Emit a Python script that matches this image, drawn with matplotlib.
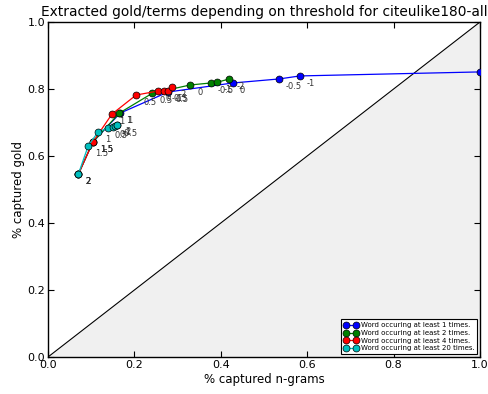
import matplotlib
matplotlib.use("Agg")
import matplotlib.pyplot as plt

thresholds = [2, 1.5, 1, 0.5, 0, -0.5, -1, -2]

series_names = ["Word occuring at least 1 times.",
                "Word occuring at least 2 times.",
                "Word occuring at least 4 times.",
                "Word occuring at least 20 times."]

ngrams_1 = [0.070, 0.104, 0.167, 0.278, 0.428, 0.535, 0.583, 1.000]
gold_1 = [0.545, 0.642, 0.728, 0.791, 0.818, 0.830, 0.839, 0.851]

ngrams_2 = [0.070, 0.104, 0.165, 0.241, 0.329, 0.377, 0.391, 0.420]
gold_2 = [0.545, 0.642, 0.728, 0.787, 0.812, 0.818, 0.820, 0.830]

ngrams_4 = [0.070, 0.104, 0.148, 0.204, 0.255, 0.269, 0.278, 0.287]
gold_4 = [0.545, 0.642, 0.725, 0.782, 0.794, 0.794, 0.794, 0.806]

ngrams_20 = [0.070, 0.093, 0.116, 0.139, 0.150, 0.155, 0.159, 0.160]
gold_20 = [0.545, 0.630, 0.672, 0.684, 0.687, 0.690, 0.693, 0.694]

colors = ["#0000ff", "#008000", "#ff0000", "#00bfbf"]

fig = plt.figure(figsize=(4.89, 3.94), dpi=100)
ax = fig.add_axes([48/489, 37/394, 432/489, 335/394])

ax.fill_between([0, 1], [0, 1], [0, 0], color="#f0f0f0", zorder=0, linewidth=0)
ax.plot([0, 1], [0, 1], color="black", linewidth=0.8, zorder=1)

all_x = [ngrams_1, ngrams_2, ngrams_4, ngrams_20]
all_y = [gold_1, gold_2, gold_4, gold_20]
for xs, ys, c, name in zip(all_x, all_y, colors, series_names):
    ax.plot(xs, ys, '-o', color=c, markerfacecolor=c, markeredgecolor="black",
            markeredgewidth=0.5, markersize=5, linewidth=0.9, label=name, zorder=3)
    for xv, yv, t in zip(xs, ys, thresholds):
        if xv >= 0.98:
            continue  # label would fall outside the axes (not shown in the chart)
        ax.annotate("%g" % t, (xv, yv), xytext=(5, -2), textcoords="offset points",
                    ha="left", va="top", fontsize=6, color="#333333", clip_on=True,
                    zorder=4)

ax.set_xlim(0, 1)
ax.set_ylim(0, 1)
ax.set_xticks([0, 0.2, 0.4, 0.6, 0.8, 1.0])
ax.set_yticks([0, 0.2, 0.4, 0.6, 0.8, 1.0])
ax.tick_params(direction="in", top=True, right=True, length=4, width=0.8,
               labelsize=8, pad=2)
for s in ax.spines.values():
    s.set_linewidth(1.0)

ax.set_xlabel("% captured n-grams", fontsize=8.5, labelpad=2)
ax.set_ylabel("% captured gold", fontsize=8.5, labelpad=2)
ax.set_title("Extracted gold/terms depending on threshold for citeulike180-all",
             fontsize=9.9, pad=4)

leg = ax.legend(loc="lower right", fontsize=5.0, numpoints=2, fancybox=False,
                framealpha=1, edgecolor="black", handlelength=2.0,
                borderpad=0.4, labelspacing=0.25, handletextpad=0.4,
                borderaxespad=0.4)
leg.get_frame().set_linewidth(0.8)

fig.savefig("out.png", dpi=100)
